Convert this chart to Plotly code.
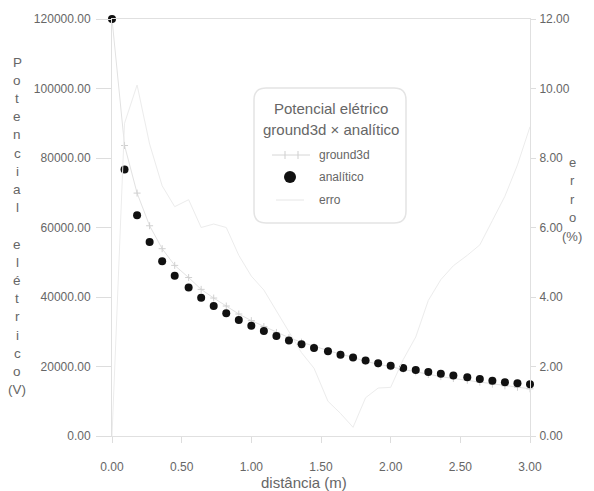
import plotly.graph_objects as go

# distance (m)
distancia = [0.00, 0.09, 0.18, 0.27, 0.36, 0.45, 0.55, 0.64, 0.73, 0.82, 0.91,
             1.00, 1.09, 1.18, 1.27, 1.36, 1.45, 1.55, 1.64, 1.73, 1.82, 1.91,
             2.00, 2.09, 2.18, 2.27, 2.36, 2.45, 2.55, 2.64, 2.73, 2.82, 2.91, 3.00]

# analytic potential (V)
analitico = [120000, 76700, 63500, 55800, 50300, 46100, 42700, 39800, 37400, 35300,
             33400, 31700, 30200, 28800, 27500, 26400, 25300, 24400, 23400, 22600,
             21700, 20900, 20200, 19600, 19000, 18400, 17900, 17400, 16900, 16400,
             15900, 15500, 15200, 14900]

# ground3d potential (V)
ground3d = [120000, 83600, 69900, 60500, 53900, 49100, 45600, 42200, 39700, 37400,
            35100, 33200, 31500, 29800, 28300, 27000, 25800, 24600, 23550, 22650,
            21460, 20610, 19920, 19170, 18460, 17680, 17090, 16550, 16020, 15500,
            14910, 14430, 14010, 13570]

# error (%)
erro = [0.0, 9.0, 10.1, 8.4, 7.2, 6.6, 6.8, 6.0, 6.1, 6.0, 5.2, 4.6, 4.2, 3.6, 3.0,
        2.4, 1.95, 1.0, 0.65, 0.25, 1.1, 1.38, 1.4, 2.2, 2.85, 3.9, 4.5, 4.9, 5.2,
        5.5, 6.2, 6.9, 7.8, 8.9]

left_ticks = [0, 20000, 40000, 60000, 80000, 100000, 120000]
right_ticks = [0, 2, 4, 6, 8, 10, 12]
x_ticks = [0, 0.5, 1.0, 1.5, 2.0, 2.5, 3.0]

series_names = ["ground3d", "analítico", "erro"]
legend_title = ["Potencial elétrico", "ground3d × analítico"]

FONT = "Liberation Sans, Arial, sans-serif"
TXT = "#666666"
C_G3D_LINE = "#e2e2e2"
C_G3D_MARK = "#d0d0d0"
C_ANA = "#111111"
C_ERRO = "#ececec"

fig = go.Figure()
fig.add_trace(go.Scatter(
    x=distancia, y=ground3d, name=series_names[0], mode="lines+markers",
    line=dict(color=C_G3D_LINE, width=1),
    marker=dict(symbol="cross-thin", size=5, line=dict(color=C_G3D_MARK, width=1)),
    cliponaxis=False))
fig.add_trace(go.Scatter(
    x=distancia, y=analitico, name=series_names[1], mode="markers",
    marker=dict(color=C_ANA, size=8),
    cliponaxis=False))
fig.add_trace(go.Scatter(
    x=distancia, y=erro, name=series_names[2], mode="lines", yaxis="y2",
    line=dict(color=C_ERRO, width=1),
    cliponaxis=False))

axis_common = dict(showgrid=False, zeroline=False, showline=True,
                   linecolor="#e0e0e0", linewidth=1, automargin=False,
                   tickfont=dict(family=FONT, size=12, color=TXT),
                   ticks="outside", tickcolor="#dddddd")

# the page body adds an 8px offset; figure is sized so the plot area lands at
# x 112..530, y 19..436 in the window
fig.update_layout(
    width=586, height=483,
    margin=dict(l=104, r=64, t=11, b=55),
    paper_bgcolor="white", plot_bgcolor="white",
    font=dict(family=FONT, color=TXT),
    showlegend=False,
    xaxis=dict(range=[0, 3], tickvals=x_ticks, tickformat=".2f", ticklen=6,
               ticklabelstandoff=14, mirror=True, **axis_common),
    yaxis=dict(range=[0, 120000], tickvals=left_ticks, tickformat=".2f", ticklen=15,
               ticklabelstandoff=3, **axis_common),
    yaxis2=dict(range=[0, 12], tickvals=right_ticks, tickformat=".2f", ticklen=5,
                ticklabelstandoff=1, overlaying="y", side="right", **axis_common),
)

plot_h = 417
plot_w = 418


def px(xp):
    return (xp - 112) / plot_w


def py(yp):
    return (436 - yp) / plot_h


def ann(text, x, y, size, xanchor="center"):
    fig.add_annotation(text=text, xref="paper", yref="paper", x=px(x), y=py(y),
                       showarrow=False, xanchor=xanchor, yanchor="middle",
                       font=dict(family=FONT, size=size, color=TXT))


# x axis title (sits slightly left of centre in the original)
ann("distância (m)", 304, 482, 15)

# stacked vertical axis titles
left_label = list("Potencial") + [""] + list("elétrico") + ["(V)"]
right_label = list("erro") + ["(%)"]
for i, ch in enumerate(left_label):
    if ch:
        ann(ch, 17, 62 + i * 18.2, 13.5)
for i, ch in enumerate(right_label):
    ann(ch, 572, 162 + i * 18.5, 13)

# legend box (rounded) drawn in paper coordinates
x0, x1, y0, y1, r = px(254), px(406), py(223), py(88), 12
rx, ry = r / plot_w, r / plot_h
path = (f"M {x0+rx},{y1} L {x1-rx},{y1} Q {x1},{y1} {x1},{y1-ry} "
        f"L {x1},{y0+ry} Q {x1},{y0} {x1-rx},{y0} L {x0+rx},{y0} "
        f"Q {x0},{y0} {x0},{y0+ry} L {x0},{y1-ry} Q {x0},{y1} {x0+rx},{y1} Z")
fig.add_shape(type="path", path=path, xref="paper", yref="paper",
              line=dict(color="#e4e4e4", width=1.5), fillcolor="rgba(255,255,255,0.85)",
              layer="above")

ann(legend_title[0], 331, 108, 15)
ann(legend_title[1], 331, 129, 15)

# legend symbols
fig.add_shape(type="line", xref="paper", yref="paper", x0=px(272), x1=px(310),
              y0=py(155), y1=py(155), line=dict(color="#d6d6d6", width=1), layer="above")
for cx in (285, 298):
    fig.add_shape(type="line", xref="paper", yref="paper", x0=px(cx), x1=px(cx),
                  y0=py(151), y1=py(159), line=dict(color="#cfcfcf", width=1), layer="above")
fig.add_shape(type="circle", xref="paper", yref="paper",
              x0=px(284), x1=px(296), y0=py(183), y1=py(171),
              fillcolor=C_ANA, line=dict(color=C_ANA, width=0), layer="above")
fig.add_shape(type="line", xref="paper", yref="paper", x0=px(276), x1=px(304),
              y0=py(200), y1=py(200), line=dict(color="#e6e6e6", width=1), layer="above")

ann(series_names[0], 317, 155, 12, "left")
ann(series_names[1], 317, 177, 12, "left")
ann(series_names[2], 317, 200, 12, "left")

fig.write_html("out.html")
